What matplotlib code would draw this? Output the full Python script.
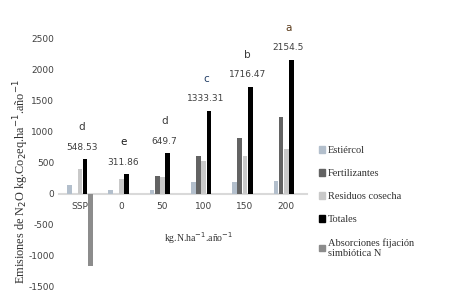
import numpy as np
import matplotlib
matplotlib.use("Agg")
import matplotlib.pyplot as plt
from matplotlib.patches import Patch

## Daten
grupos = ["SSP", "0", "50", "100", "150", "200"]
estiercol = [130, 60, 60, 180, 180, 210]
fertilizantes = [0, 0, 290, 600, 900, 1230]
residuos = [400, 240, 260, 530, 610, 710]
totales = [548.53, 311.86, 649.7, 1333.31, 1716.47, 2154.5]
absorciones = [-1160, 0, 0, 0, 0, 0]
etiquetas = ["548.53", "311.86", "649.7", "1333.31", "1716.47", "2154.5"]
letras = ["d", "e", "d", "c", "b", "a"]
yticks = [-1500, -1000, -500, 0, 500, 1000, 1500, 2000, 2500]

series = [
    ("Estiércol", estiercol, "#b3bfcc"),
    ("Fertilizantes", fertilizantes, "#636363"),
    ("Residuos cosecha", residuos, "#c9c9c9"),
    ("Totales", totales, "#000000"),
    ("Absorciones fijación\nsimbiótica N", absorciones, "#8c8c8c"),
]
col_letras = ["#3a3a3a", "#1a1a1a", "#3a3a3a", "#1f3b63", "#3a3a3a", "#5a3a1a"]

## Plot
fig = plt.figure(figsize=(4.63, 2.97), dpi=100)
ax = fig.add_axes([0.128, 0.034, 0.535, 0.838])

x = np.arange(len(grupos))
paso = 0.126
for i, (nombre, vals, c) in enumerate(series):
    ax.bar(x + (i - 2) * paso, vals, width=0.115, color=c, label=nombre, zorder=2)

for xi, t, lab, let, lc in zip(x, totales, etiquetas, letras, col_letras):
    ax.annotate(lab, (xi + 0.05, t), xytext=(0, 8.5), textcoords="offset points",
                ha="center", va="center", fontsize=6.5, color="#404040",
                family="DejaVu Sans", annotation_clip=False)
    ax.annotate(let, (xi + 0.05, t), xytext=(0, 23), textcoords="offset points",
                ha="center", va="center", fontsize=7.5, color=lc,
                family="DejaVu Sans", annotation_clip=False)

ax.set_xlim(-0.5, 5.5)
ax.set_ylim(-1500, 2500)
ax.set_yticks(yticks)
ax.set_yticklabels([str(v) for v in yticks])
ax.set_xticks(x)
ax.set_xticklabels(grupos)
ax.tick_params(axis="both", length=0, labelsize=6.5, colors="#404040")
ax.tick_params(axis="x", pad=6)
for s in ["top", "right", "left"]:
    ax.spines[s].set_visible(False)
ax.spines["bottom"].set_position(("data", 0))
ax.spines["bottom"].set_color("#d9d9d9")
ax.spines["bottom"].set_linewidth(1.5)
ax.spines["bottom"].set_zorder(1)

fig.text(0.045, 0.39, "Emisiones de N$_2$O kg.Co$_2$eq.ha$^{-1}$.año$^{-1}$",
         rotation=90, ha="center", va="center", fontsize=8.8,
         family="Liberation Serif", color="#303030")
fig.text(0.43, 0.2, "kg.N.ha$^{-1}$.año$^{-1}$", ha="center", va="center",
         fontsize=7, family="Liberation Serif", color="#303030")

handles = [Patch(color=c) for _, _, c in series]
leg = fig.legend(handles, [n for n, _, _ in series], loc="upper left",
                 bbox_to_anchor=(0.668, 0.54), frameon=False,
                 handlelength=0.6, handleheight=0.6, handletextpad=0.3,
                 labelspacing=1.35, prop={"family": "Liberation Serif", "size": 7.5})
for t in leg.get_texts():
    t.set_color("#303030")

fig.savefig("out.png", dpi=100)
